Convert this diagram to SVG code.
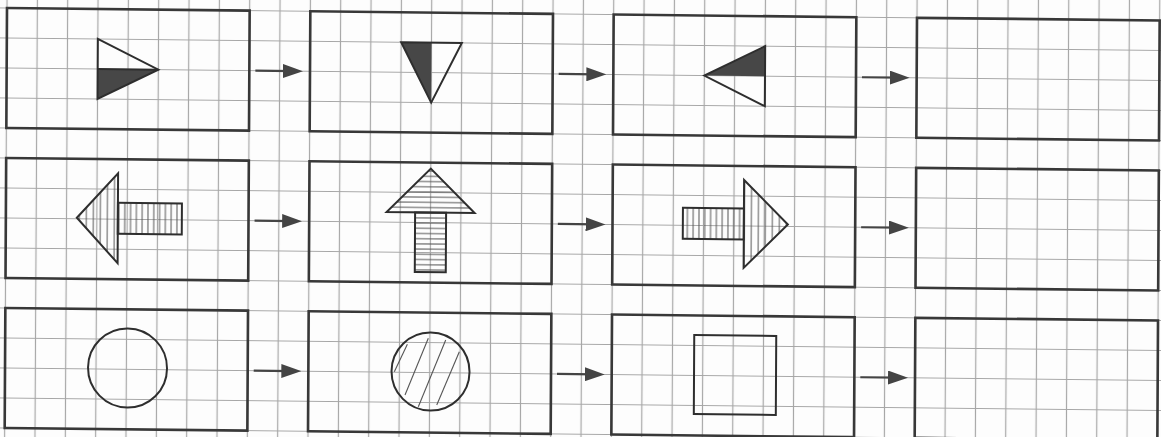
<svg xmlns="http://www.w3.org/2000/svg" width="1161" height="437" viewBox="0 0 1161 437">
<style>
.box{fill:none;stroke:#383838;stroke-width:2.6}
.shape{fill:none;stroke:#2e2e2e;stroke-width:2;stroke-linejoin:miter}
.outline{stroke:#2e2e2e;stroke-width:2;stroke-linejoin:miter}
.solid{fill:#474747;stroke:none}
.hatch{stroke:#555;stroke-width:1;fill:none}
.conn{stroke:#444;stroke-width:2.2;fill:none}
.gl{stroke:#a6a6a6;stroke-width:1.2;fill:none}
</style>
<defs>
<marker id="ah" viewBox="0 0 20 14" refX="10" refY="7" markerWidth="20" markerHeight="14" markerUnits="userSpaceOnUse" orient="auto">
<path d="M0,0 L20,7 L0,14 z" fill="#444"/>
</marker>
<pattern id="gp" patternUnits="userSpaceOnUse" x="-15.1667" y="-15" width="30.3333" height="30"><path class="gl" d="M15.1667 0V30M0 15H30.3333"/></pattern>
<pattern id="hv7" patternUnits="userSpaceOnUse" width="7" height="10"><path d="M3.5 0V10" class="hatch"/></pattern>
<pattern id="hv6" patternUnits="userSpaceOnUse" width="5.8" height="10"><path d="M2.9 0V10" class="hatch"/></pattern>
<pattern id="hh5" patternUnits="userSpaceOnUse" width="10" height="5.2"><path d="M0 2.6H10" class="hatch"/></pattern>
</defs>
<rect x="0" y="0" width="1161" height="437" fill="#fdfdfd"/>
<g transform="matrix(1,0.0108,-0.0055,1,7,8)">
<g id="grid">
<rect x="-40" y="-40" width="1240" height="510" fill="url(#gp)"/>
</g>
<g id="connectors">
<line class="conn" x1="248.7" y1="60" x2="286.3" y2="60" marker-end="url(#ah)"/>
<line class="conn" x1="552" y1="60" x2="589.7" y2="60" marker-end="url(#ah)"/>
<line class="conn" x1="855.3" y1="60" x2="893" y2="60" marker-end="url(#ah)"/>
<line class="conn" x1="248.7" y1="210" x2="286.3" y2="210" marker-end="url(#ah)"/>
<line class="conn" x1="552" y1="210" x2="589.7" y2="210" marker-end="url(#ah)"/>
<line class="conn" x1="855.3" y1="210" x2="893" y2="210" marker-end="url(#ah)"/>
<line class="conn" x1="248.7" y1="360" x2="286.3" y2="360" marker-end="url(#ah)"/>
<line class="conn" x1="552" y1="360" x2="589.7" y2="360" marker-end="url(#ah)"/>
<line class="conn" x1="855.3" y1="360" x2="893" y2="360" marker-end="url(#ah)"/>
</g>
<g id="r1c1">
<rect class="box" x="0" y="0" width="242.67" height="120"/>
<polygon class="solid" points="91,60 91,90 151.67,60"/>
<polygon class="shape" points="91,30 151.67,60 91,90"/>
<line class="shape" x1="91" y1="60" x2="151.67" y2="60"/>
</g>
<g id="r1c2">
<rect class="box" x="303.33" y="0" width="242.67" height="120"/>
<polygon class="solid" points="394.33,30 424.67,30 424.67,90"/>
<polygon class="shape" points="394.33,30 455,30 424.67,90"/>
</g>
<g id="r1c3">
<rect class="box" x="606.67" y="0" width="242.67" height="120"/>
<polygon class="solid" points="758.33,30 758.33,60 697.67,60"/>
<polygon class="shape" points="758.33,30 758.33,90 697.67,60"/>
</g>
<g id="r1c4">
<rect class="box" x="910" y="0" width="242.67" height="120"/>
</g>
<g id="r2c1">
<rect class="box" x="0" y="150" width="242.67" height="120"/>
<polygon class="outline" points="71,209 112,164 112,254" fill="url(#hv7)"/>
<rect class="outline" x="112" y="193.5" width="64" height="31" fill="url(#hv6)"/>
</g>
<g id="r2c2">
<rect class="box" x="303.33" y="150" width="242.67" height="120"/>
<polygon class="outline" points="424.7,156 468.7,200 380.7,200" fill="url(#hh5)"/>
<rect class="outline" x="409.2" y="200" width="31" height="59.5" fill="url(#hh5)"/>
</g>
<g id="r2c3">
<rect class="box" x="606.67" y="150" width="242.67" height="120"/>
<rect class="outline" x="677" y="192.5" width="61" height="31" fill="url(#hv6)"/>
<polygon class="outline" points="782,208 738,164 738,252" fill="url(#hv7)"/>
</g>
<g id="r2c4">
<rect class="box" x="910" y="150" width="242.67" height="120"/>
</g>
<g id="r3c1">
<rect class="box" x="0" y="300" width="242.67" height="120"/>
<circle class="shape" cx="122.5" cy="358.7" r="39.5"/>
</g>
<g id="r3c2">
<rect class="box" x="303.33" y="300" width="242.67" height="120"/>
<g stroke="#555" stroke-width="1.1">
<line x1="389.3" y1="359.5" x2="402.2" y2="332"/>
<line x1="400.1" y1="382.7" x2="423.1" y2="325.7"/>
<line x1="413.5" y1="394.2" x2="440.5" y2="327.2"/>
<line x1="431.9" y1="392.3" x2="454.2" y2="338.8"/>
</g>
<circle class="shape" cx="425.5" cy="359" r="39"/>
</g>
<g id="r3c3">
<rect class="box" x="606.67" y="300" width="242.67" height="120"/>
<rect class="shape" x="689" y="319.6" width="82" height="79"/>
</g>
<g id="r3c4">
<rect class="box" x="910" y="300" width="242.67" height="120"/>
</g>
</g>
</svg>
